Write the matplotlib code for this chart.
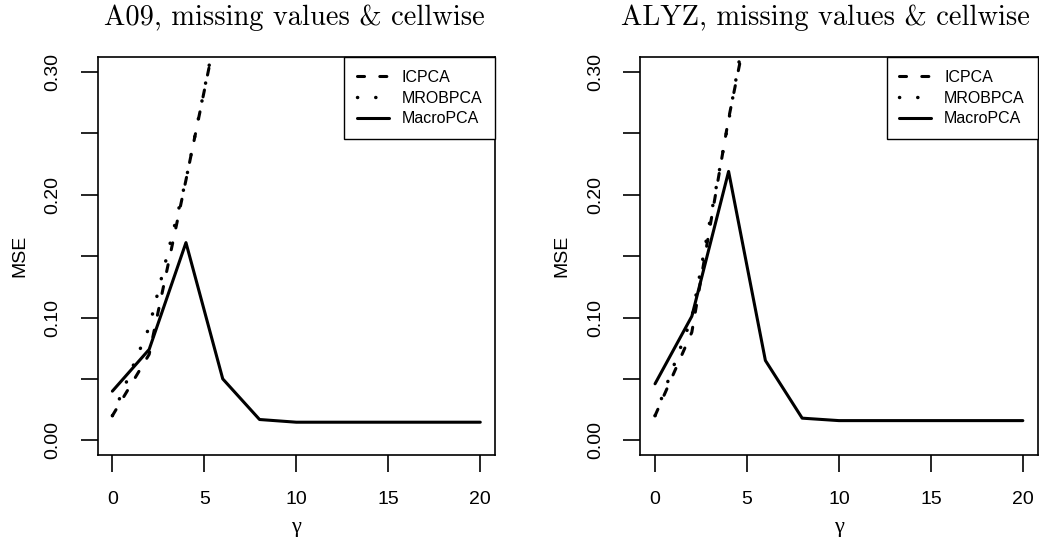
import matplotlib
matplotlib.use('Agg')
import matplotlib.pyplot as plt

# gamma grid and MSE curves
gamma = [0, 2, 4, 6, 8, 10, 20]
gammaShort = [0, 2, 4, 6]

titles = ['A09, missing values & cellwise', 'ALYZ, missing values & cellwise']

icpca = [
    [0.020, 0.070, 0.212, 0.358],
    [0.020, 0.088, 0.262, 0.410],
]
mrobpca = [
    [0.020, 0.092, 0.212, 0.360],
    [0.020, 0.100, 0.260, 0.430],
]
macropca = [
    [0.040, 0.074, 0.161, 0.050, 0.0169, 0.0147, 0.0147],
    [0.046, 0.101, 0.219, 0.065, 0.018, 0.016, 0.016],
]

yTicks = [0.00, 0.05, 0.10, 0.15, 0.20, 0.25, 0.30]
yLabels = ['0.00', '', '0.10', '', '0.20', '', '0.30']
xTicks = [0, 5, 10, 15, 20]

plt.rcParams['font.family'] = ['Liberation Sans', 'DejaVu Sans']

fig = plt.figure(figsize=(10.39, 5.46), dpi=100)
positions = [[0.094, 0.1667, 0.3824, 0.7284], [0.6163, 0.1667, 0.3823, 0.7284]]
titleX = [0.494, 0.465]

lw = 2.2
for k in range(2):
    ax = fig.add_axes(positions[k])
    ax.plot(gammaShort, icpca[k], color='black', lw=lw, dashes=(2.3, 5.0),
            dash_capstyle='round', solid_joinstyle='round', label='ICPCA')
    ax.plot(gammaShort, mrobpca[k], color='black', lw=2.5, dashes=(0.05, 5.2),
            dash_capstyle='round', label='MROBPCA')
    ax.plot(gamma, macropca[k], color='black', lw=lw, solid_capstyle='round',
            solid_joinstyle='round', label='MacroPCA')

    ax.set_xlim(-0.8, 20.8)
    ax.set_ylim(-0.012, 0.312)
    ax.set_xticks(xTicks)
    ax.set_xticklabels([str(t) for t in xTicks], fontsize=14)
    ax.set_yticks(yTicks)
    ax.set_yticklabels(yLabels, fontsize=14, rotation=90, va='center')
    ax.tick_params(direction='out', length=12, width=1.2, pad=14)
    for s in ax.spines.values():
        s.set_linewidth(1.2)

    ax.set_xlabel('γ', family=['Liberation Serif', 'DejaVu Serif'], fontsize=16, labelpad=7)
    ax.set_ylabel('MSE', fontsize=14, labelpad=12)
    ax.set_title(titles[k], family='cmr10', fontsize=20.5, pad=23, x=titleX[k])

    leg = ax.legend(loc='upper right', fontsize=11.5, borderaxespad=0, fancybox=False,
                    framealpha=1, edgecolor='black', handlelength=2.0,
                    handletextpad=0.8, labelspacing=0.35, borderpad=0.8)
    leg.get_frame().set_linewidth(1.0)

fig.savefig('out.png', dpi=100)
